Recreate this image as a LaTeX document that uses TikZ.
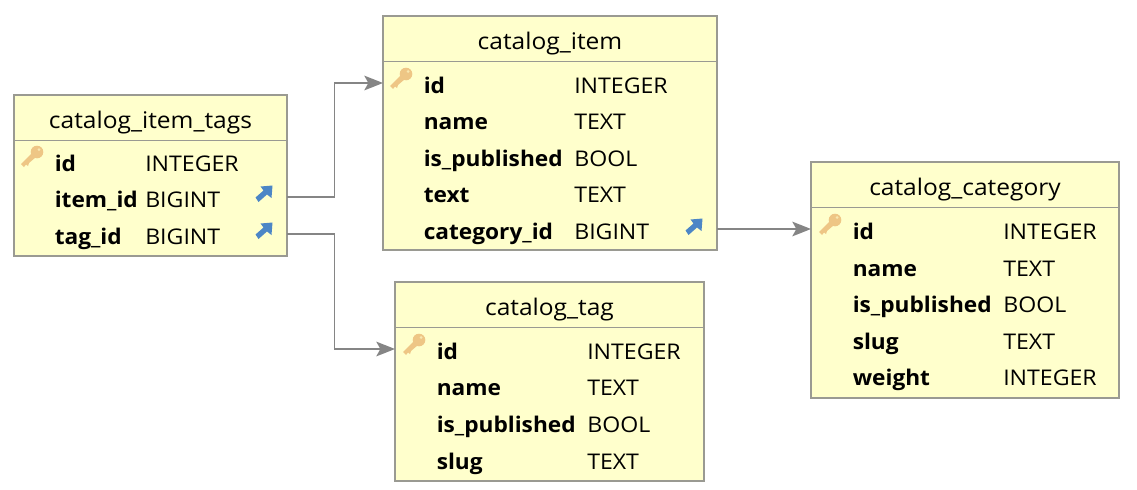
\documentclass[tikz,border=0pt]{standalone}
\usepackage{fontspec}
\setmainfont[FakeStretch=1.07,BoldFeatures={FakeStretch=1.05}]{Open Sans}
\usepackage{xcolor}
\usetikzlibrary{arrows.meta}
\definecolor{tablefill}{HTML}{FFFFCC}
\definecolor{tableline}{HTML}{9A9A92}
\definecolor{linkline}{HTML}{858585}
\definecolor{keycolor}{HTML}{EEC685}
\definecolor{fkcolor}{HTML}{4C86C6}

\begin{document}
\begin{tikzpicture}[
		x=0.75pt,
		y=-0.75pt,
		tablebox/.style={
			rectangle,
			draw=tableline,
			line width=1.1pt,
			fill=tablefill,
			anchor=north west,
			outer sep=0pt,
			inner sep=0pt
		},
		headbox/.style={
			rectangle,
			draw=tableline,
			line width=1.1pt,
			anchor=north,
			minimum height=34pt,
			outer sep=0pt,
			inner sep=0pt,
			text height=18.5pt,
			text depth=3pt,
			font=\fontsize{17.2pt}{18pt}\selectfont
		},
		colname/.style={
			anchor=west,
			inner sep=0pt,
			text height=18pt,
			text depth=3pt,
			font=\fontsize{16.2pt}{18pt}\selectfont\bfseries
		},
		coltype/.style={
			anchor=west,
			inner sep=0pt,
			text height=18pt,
			text depth=3pt,
			font=\fontsize{16.2pt}{18pt}\selectfont
		},
		arrow/.style={
			-{Stealth[length=14pt,width=11pt,inset=3pt]},
			line width=1.1pt,
			draw=linkline
		},
		keyicon/.pic={
			\fill[keycolor] (0,0) circle (6.3);
			\fill[keycolor] (-5,1) -- (-1,5) -- (-8,11) -- (-9,14) -- (-11,12.5) -- (-13,15) -- (-16,12) -- cycle;
			\fill[tablefill!60!keycolor] (2,-2.5) circle (1.5);
		},
		fkicon/.pic={
			\fill[fkcolor] (0,0) -- (-12,1) -- (-9,5) -- (-17,12) -- (-14,16.5) -- (-5.5,9) -- (-1,12.5) -- cycle;
		}
	]
	\useasboundingbox (0,0) rectangle (1137,489);
	% Tables
	\node[tablebox, minimum width=204.75pt, minimum height=120.75pt] (tags) at (14,95) {};
	\node[tablebox, minimum width=250.5pt, minimum height=175.5pt] (item) at (383,16) {};
	\node[tablebox, minimum width=231.75pt, minimum height=149.25pt] (tag) at (395,282) {};
	\node[tablebox, minimum width=231pt, minimum height=177pt] (category) at (811,162) {};
	% Headers
	\node[headbox, minimum width=204.75pt] (tagshead) at (tags.north) {catalog\_item\_tags};
	\node[headbox, minimum width=250.5pt] (itemhead) at (item.north) {catalog\_item};
	\node[headbox, minimum width=231.75pt] (taghead) at (tag.north) {catalog\_tag};
	\node[headbox, minimum width=231pt] (categoryhead) at (category.north) {catalog\_category};
	% catalog_item_tags rows
	\node[colname] (tagsid) at (54.5,161) {id};
	\node[coltype] at (145,161) (tagsidtype) {INTEGER};
	\node[colname] (tagsitem) at (54.5,197) {item\_id};
	\node[coltype] at (145,197) (tagsitemtype) {BIGINT};
	\node[colname] (tagstag) at (54.5,234) {tag\_id};
	\node[coltype] at (145,234) (tagstagtype) {BIGINT};
	% catalog_item rows
	\node[colname] (itemid) at (423.5,83) {id};
	\node[coltype] at (574,83) (itemidtype) {INTEGER};
	\node[colname] (itemname) at (423.5,119) {name};
	\node[coltype] at (574,119) (itemnametype) {TEXT};
	\node[colname] (itempub) at (423.5,156) {is\_published};
	\node[coltype] at (574,156) (itempubtype) {BOOL};
	\node[colname] (itemtext) at (423.5,192) {text};
	\node[coltype] at (574,192) (itemtexttype) {TEXT};
	\node[colname] (itemcat) at (423.5,229) {category\_id};
	\node[coltype] at (574,229) (itemcattype) {BIGINT};
	% catalog_tag rows
	\node[colname] (tagid) at (436.5,349) {id};
	\node[coltype] at (587,349) (tagidtype) {INTEGER};
	\node[colname] (tagname) at (436.5,385) {name};
	\node[coltype] at (587,385) (tagnametype) {TEXT};
	\node[colname] (tagpub) at (436.5,422) {is\_published};
	\node[coltype] at (587,422) (tagpubtype) {BOOL};
	\node[colname] (tagslug) at (436.5,459) {slug};
	\node[coltype] at (587,459) (tagslugtype) {TEXT};
	% catalog_category rows
	\node[colname] (catid) at (852.5,229) {id};
	\node[coltype] at (1003,229) (catidtype) {INTEGER};
	\node[colname] (catname) at (852.5,266) {name};
	\node[coltype] at (1003,266) (catnametype) {TEXT};
	\node[colname] (catpub) at (852.5,302) {is\_published};
	\node[coltype] at (1003,302) (catpubtype) {BOOL};
	\node[colname] (catslug) at (852.5,339) {slug};
	\node[coltype] at (1003,339) (catslugtype) {TEXT};
	\node[colname] (catweight) at (852.5,375) {weight};
	\node[coltype] at (1003,375) (catweighttype) {INTEGER};
	% Icons
	\pic at (37,152) {keyicon};
	\pic at (406,74) {keyicon};
	\pic at (419,340) {keyicon};
	\pic at (835,220) {keyicon};
	\pic at (272.5,185.5) {fkicon};
	\pic at (272.5,222.5) {fkicon};
	\pic at (702.5,218.5) {fkicon};
	% Connectors
	\draw[arrow] (tagsitem -| tags.east) -- ++(47.5,0) |- (itemid -| item.west);
	\draw[arrow] (tagstag -| tags.east) -- ++(47.5,0) |- (tagid -| tag.west);
	\draw[arrow] (itemcat -| item.east) -- (catid -| category.west);
\end{tikzpicture}
\end{document}
